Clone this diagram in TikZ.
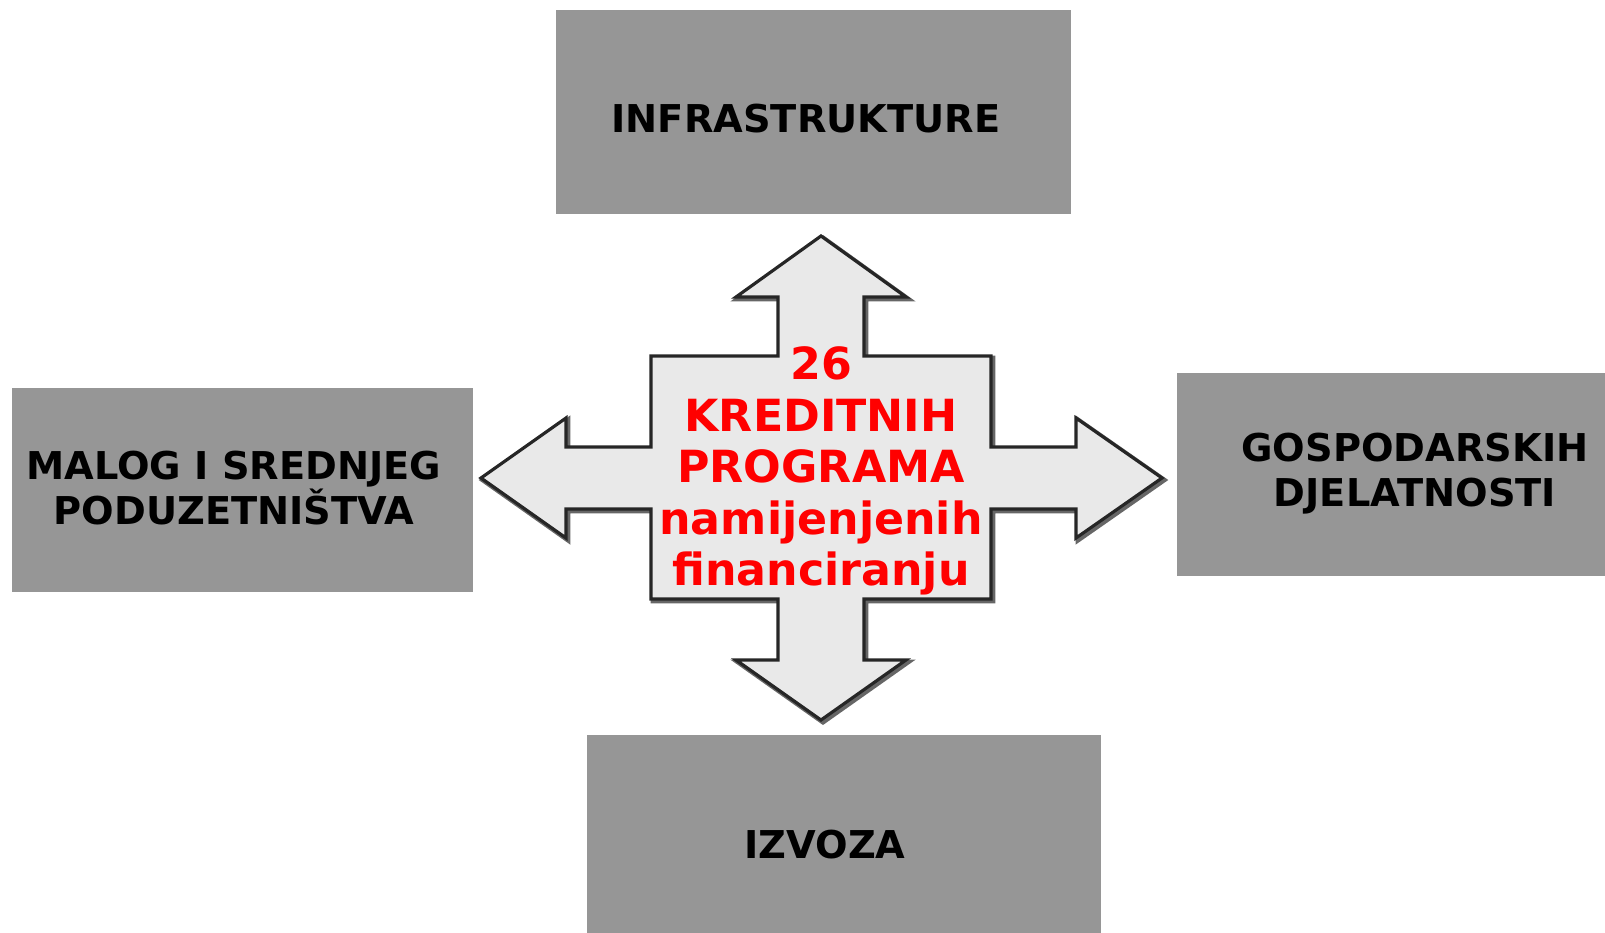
\documentclass[tikz,border=0pt]{standalone}
\usepackage{fontspec}
\setmainfont{DejaVu Sans}
\usetikzlibrary{positioning}
\definecolor{boxgray}{RGB}{150,150,150}
\definecolor{arrowfill}{RGB}{233,233,233}
\tikzset{
  sector/.style   = {draw=none, fill=boxgray, rectangle, minimum height=2.04cm, inner sep=0pt},
  sectortext/.style = {font=\fontsize{10.9}{12.8}\selectfont\bfseries, align=center, text=black},
  credits/.style  = {font=\fontsize{12.6}{14.65}\selectfont\bfseries, align=center, text=red},
  crossline/.style = {draw=black!85, line width=0.9pt, fill=arrowfill, line join=miter},
  crossshadow/.style = {draw=black!60, line width=1.4pt}
}
% four-headed arrow in the middle
\newcommand\crossarrow[1]{%
  \draw[#1] (821,236) -- (906,297) -- (864,297) -- (864,356) -- (991,356) -- (991,447)
    -- (1076,447) -- (1076,418) -- (1162,478) -- (1076,538) -- (1076,509) -- (991,509)
    -- (991,599) -- (864,599) -- (864,660) -- (906,660) -- (821,720) -- (736,660)
    -- (778,660) -- (778,599) -- (651,599) -- (651,509) -- (566,509) -- (566,538)
    -- (481,478) -- (566,418) -- (566,447) -- (651,447) -- (651,356) -- (778,356)
    -- (778,297) -- (736,297) -- cycle;}

\begin{document}
\begin{tikzpicture}[x=0.01cm, y=-0.01cm]
  \useasboundingbox (0,0) rectangle (1605,933);

  % the four sectors
  \node[sector, minimum width=5.15cm] (infra) at (813.5,112) {};
  \node[sector, minimum width=4.61cm] (msp) at (242.5,490) {};
  \node[sector, minimum width=4.28cm, minimum height=2.03cm] (gosp) at (1391,474.5) {};
  \node[sector, minimum width=5.14cm, minimum height=1.98cm] (izvoz) at (844,834) {};

  \node[sectortext] (infratxt) at (806,119) {INFRASTRUKTURE};
  \node[sectortext] (msptxt) at (234,488) {MALOG I SREDNJEG\\PODUZETNIŠTVA};
  \node[sectortext] (gosptxt) at (1415,474) {GOSPODARSKIH\\DJELATNOSTI};
  \node[sectortext] (izvoztxt) at (825,845) {IZVOZA};

  % arrow with a small shadow
  \begin{scope}[shift={(2,2)}]
    \crossarrow{crossshadow}
  \end{scope}
  \crossarrow{crossline}

  \node[credits] (programi) at (821,471)
    {26\\KREDITNIH\\PROGRAMA\\namijenjenih\\financiranju};
\end{tikzpicture}
\end{document}
